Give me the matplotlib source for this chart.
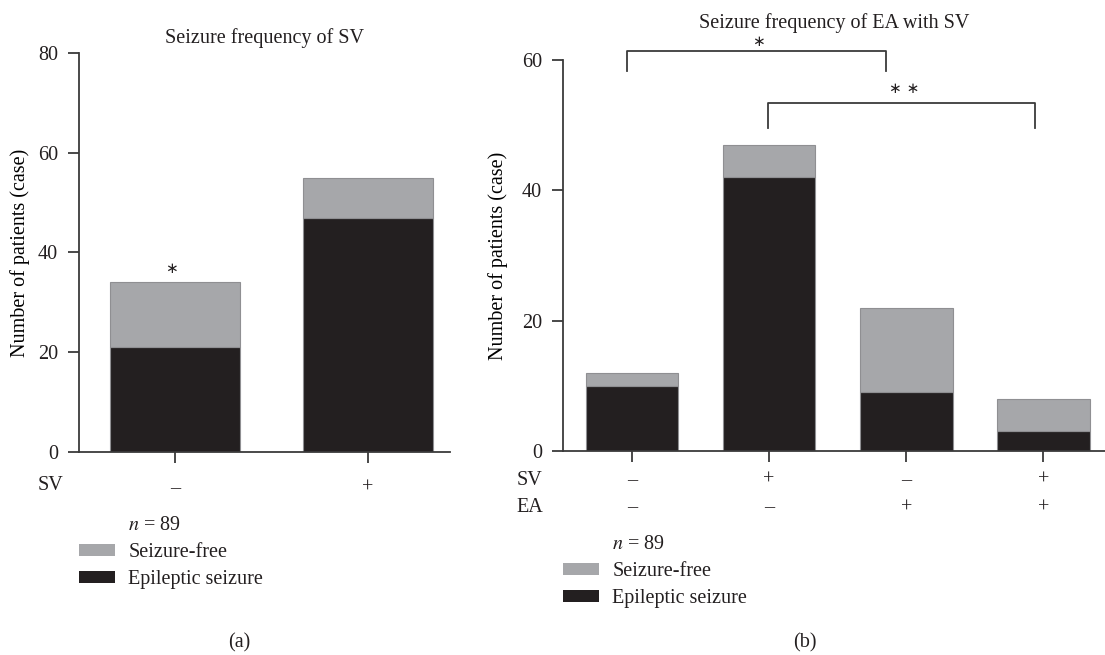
import matplotlib
matplotlib.use("Agg")
import matplotlib.pyplot as plt
from matplotlib.patches import Patch

# panel (a): seizure frequency of SV
sv_labels_a = ["–", "+"]
seizure_a = [21, 47]
free_a = [13, 8]

# panel (b): seizure frequency of EA with SV
sv_labels_b = ["–", "+", "–", "+"]
ea_labels_b = ["–", "–", "+", "+"]
seizure_b = [10, 42, 9, 3]
free_b = [2, 5, 13, 5]

# significance brackets in panel (b): (x_left, x_right, y_top, y_leg, label, label_y)
brackets_b = [(-0.04, 1.85, 61.4, 58.3, "∗", 62.9),
              (0.99, 2.94, 53.4, 49.6, "∗ ∗", 55.6)]

dark = "#231f20"
gray = "#a6a7aa"
edge = "#8f8f92"

plt.rcParams['font.family'] = ['Liberation Serif', 'DejaVu Sans']
plt.rcParams['mathtext.fontset'] = 'stix'
plt.rcParams['text.color'] = dark
fs = 14.5
star_fs = 11

fig = plt.figure(figsize=(11.05, 6.55), dpi=100)
W, H = 1105, 655


def px_axes(x0, y0, x1, y1):
    return fig.add_axes([x0 / W, 1 - y1 / H, (x1 - x0) / W, (y1 - y0) / H])


def style(ax):
    for s in ["top", "right"]:
        ax.spines[s].set_visible(False)
    for s in ["left", "bottom"]:
        ax.spines[s].set_color("#3a3a3a")
        ax.spines[s].set_linewidth(1.3)
    ax.tick_params(axis="both", direction="out", length=8, width=1.3,
                   color="#3a3a3a", labelsize=fs, labelcolor=dark, pad=7)
    ax.set_xticklabels([])


def legend(ax, x, y):
    handles = [Patch(alpha=0), Patch(facecolor=gray), Patch(facecolor=dark)]
    labels = ["$n$ = 89", "Seizure-free", "Epileptic seizure"]
    ax.legend(handles, labels, loc="upper left", bbox_to_anchor=(x / W, 1 - y / H),
              bbox_transform=fig.transFigure, frameon=False, fontsize=fs,
              borderpad=0, borderaxespad=0, handlelength=1.8, handleheight=0.6,
              handletextpad=0.65, labelspacing=0.4)


# ---------- (a) ----------
ax1 = px_axes(79, 53, 450, 452)
xa = range(len(seizure_a))
ax1.bar(xa, seizure_a, width=0.674, color=dark, edgecolor=edge, linewidth=0.8)
ax1.bar(xa, free_a, bottom=seizure_a, width=0.674, color=gray, edgecolor=edge, linewidth=0.8)
ax1.set_xlim(-0.497, 1.425)
ax1.set_ylim(0, 80)
ax1.set_yticks([0, 20, 40, 60, 80])
ax1.set_xticks(list(xa))
style(ax1)
ax1.set_ylabel("Number of patients (case)", fontsize=fs, labelpad=6)
ax1.set_title("Seizure frequency of SV", fontsize=fs, pad=7)
for i, lab in enumerate(sv_labels_a):
    ax1.annotate(lab, (i, 0), xycoords=("data", "axes fraction"), xytext=(0, -26),
                 textcoords="offset points", ha="center", va="center", fontsize=fs)
ax1.annotate("SV", (0, 0), xycoords="axes fraction", xytext=(-11.5, -24),
             textcoords="offset points", ha="right", va="center", fontsize=fs)
ax1.text(-0.02, seizure_a[0] + free_a[0] + 2.7, "∗", ha="center", va="center",
         fontsize=star_fs, family="DejaVu Sans")
legend(ax1, 79, 516)
fig.text(239 / W, 1 - 643 / H, "(a)", ha="center", va="center", fontsize=fs)

# ---------- (b) ----------
ax2 = px_axes(563, 60, 1105, 451)
xb = range(len(seizure_b))
ax2.bar(xb, seizure_b, width=0.675, color=dark, edgecolor=edge, linewidth=0.8)
ax2.bar(xb, free_b, bottom=seizure_b, width=0.675, color=gray, edgecolor=edge, linewidth=0.8)
ax2.set_xlim(-0.504, 3.45)
ax2.set_ylim(0, 60)
ax2.set_yticks([0, 20, 40, 60])
ax2.set_xticks(list(xb))
style(ax2)
ax2.set_ylabel("Number of patients (case)", fontsize=fs, labelpad=10)
ax2.set_title("Seizure frequency of EA with SV", fontsize=fs, pad=23)
for i in xb:
    ax2.annotate(sv_labels_b[i], (i, 0), xycoords=("data", "axes fraction"), xytext=(0, -21),
                 textcoords="offset points", ha="center", va="center", fontsize=fs)
    ax2.annotate(ea_labels_b[i], (i, 0), xycoords=("data", "axes fraction"), xytext=(0, -41),
                 textcoords="offset points", ha="center", va="center", fontsize=fs)
ax2.annotate("SV", (0, 0), xycoords="axes fraction", xytext=(-14.5, -21),
             textcoords="offset points", ha="right", va="center", fontsize=fs)
ax2.annotate("EA", (0, 0), xycoords="axes fraction", xytext=(-14.5, -41),
             textcoords="offset points", ha="right", va="center", fontsize=fs)
for x0, x1, yt, yl, lab, ly in brackets_b:
    ax2.plot([x0, x0, x1, x1], [yl, yt, yt, yl], color="#3a3a3a", lw=1.3, clip_on=False)
    ax2.text((x0 + x1) / 2 + 0.02, ly, lab, ha="center", va="center", fontsize=star_fs,
             family="DejaVu Sans", clip_on=False)
legend(ax2, 563, 535)
fig.text(805 / W, 1 - 643 / H, "(b)", ha="center", va="center", fontsize=fs)

fig.savefig("out.png", dpi=100)
